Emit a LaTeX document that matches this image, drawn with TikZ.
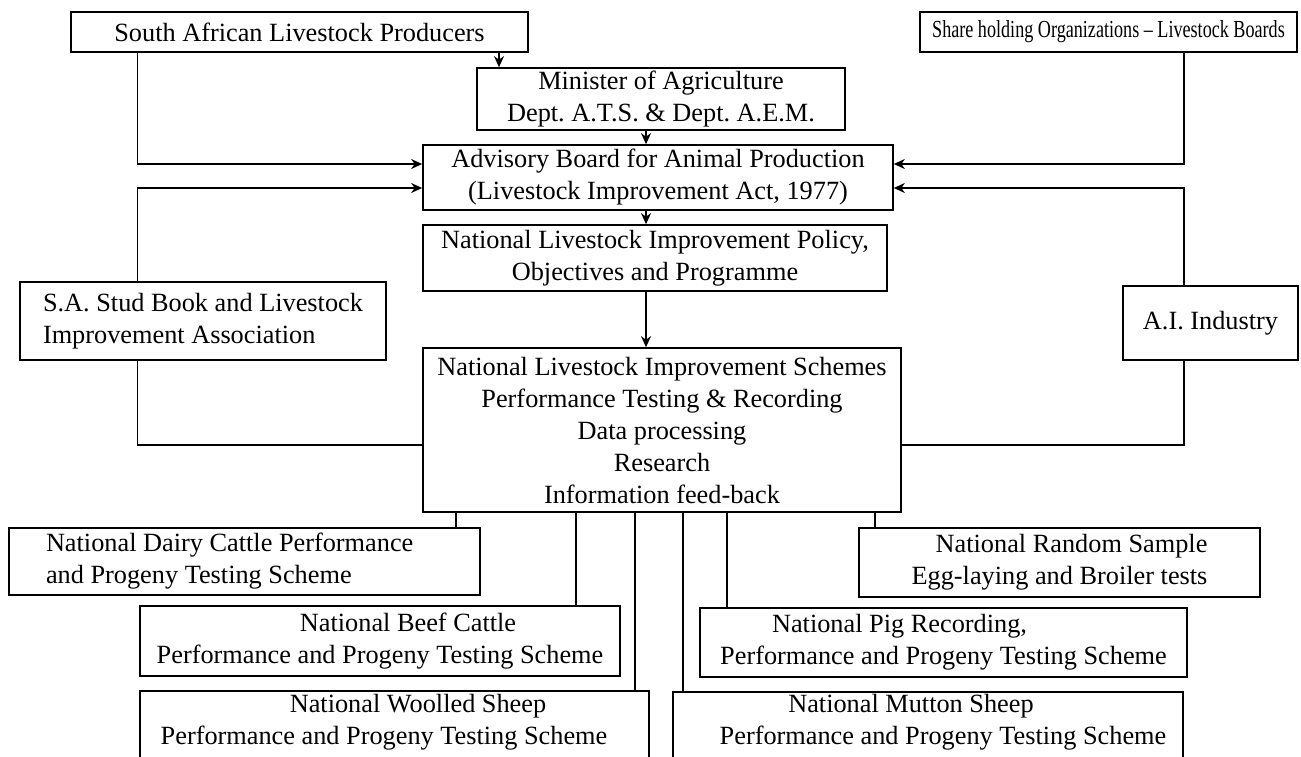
\documentclass[tikz,border=0pt]{standalone}
\usepackage{fontspec}
\setmainfont{Liberation Serif}
\newfontfamily\narrowserif[FakeStretch=0.74]{Liberation Serif}
\usetikzlibrary{arrows.meta}
\frenchspacing

\begin{document}
\begin{tikzpicture}[x=1pt,y=-1pt,
  box/.style={draw, line width=1.7pt, inner sep=0pt, align=center,
    font=\fontsize{26.3}{32}\selectfont},
  txt/.style={inner sep=0pt, align=center, font=\fontsize{26.3}{32}\selectfont},
  link/.style={line width=1.4pt},
  arr/.style={link, -{Stealth[length=11pt,width=10pt,inset=3.5pt]}}]

\useasboundingbox (0,0) rectangle (1301,756);
\clip (0,0) rectangle (1301,756);

% top row
\node[box, minimum width=457, minimum height=40] (salp) at (299.5,32)
  {South African Livestock Producers};
\node[box, minimum width=377, minimum height=40] (share) at (1108.5,32)
  {\fontsize{24.5}{30}\narrowserif Share holding Organizations – Livestock Boards};

% central column
\node[box, minimum width=368, minimum height=62] (minister) at (661,99)
  {Minister of Agriculture\\Dept. A.T.S. \& Dept. A.E.M.};
\node[box, minimum width=470, minimum height=65] (advisory) at (658,177.5)
  {Advisory Board for Animal Production\\(Livestock Improvement Act, 1977)};
\node[box, minimum width=464, minimum height=66] (nlip) at (655,258)
  {National Livestock Improvement Policy,\\Objectives and Programme};
\node[box, minimum width=478, minimum height=164] (nlis) at (662,430)
  {National Livestock Improvement Schemes\\Performance Testing \& Recording\\Data processing\\Research\\Information feed-back};

% side organisations
\node[box, minimum width=366, minimum height=78, align=flush left] (stud) at (203,321)
  {S.A. Stud Book and Livestock\\Improvement Association};
\node[box, minimum width=175, minimum height=74] (ai) at (1210.5,323)
  {A.I. Industry};

% schemes
\node[box, minimum width=471, minimum height=67, text width=397, align=flush left] (dairy) at (244.5,561.5)
  {National Dairy Cattle Performance\\and Progeny Testing Scheme};
\node[box, minimum width=401, minimum height=69, align=flush right] (random) at (1059.5,562.5)
  {National Random Sample\\Egg-laying and Broiler tests};
\node[box, minimum width=480, minimum height=70] (beef) at (380,641)
  {\hspace*{56pt}National Beef Cattle\\Performance and Progeny Testing Scheme};
\node[box, minimum width=487, minimum height=69] (pig) at (943.5,642.5)
  {National Pig Recording,\hspace*{88pt}\\Performance and Progeny Testing Scheme};
\node[box, minimum width=509, minimum height=120, anchor=north] (woolled) at (394.5,690) {};
\node[txt] (woolledtext) at (384,722)
  {\hspace*{68pt}National Woolled Sheep\\Performance and Progeny Testing Scheme};
\node[box, minimum width=510, minimum height=120, anchor=north] (mutton) at (928,691) {};
\node[txt] (muttontext) at (943,722)
  {National Mutton Sheep\hspace*{64pt}\\Performance and Progeny Testing Scheme};

% routing columns and rows
\coordinate (lcol) at (137.5,164);
\coordinate (rcol) at (1184,164);
\coordinate (lrow2) at (137.5,188);
\coordinate (rrow2) at (1184,188);
\coordinate (lrow3) at (137.5,445);
\coordinate (rrow3) at (1184,445);
\coordinate (salpdrop) at (499,0);
\coordinate (spine) at (646,0);

% feeds into the advisory board
\draw[arr] (salp.south -| lcol) |- (advisory.west |- lcol);
\draw[arr] (share.south -| rcol) |- (advisory.east |- rcol);
\draw[arr] (stud.north -| lrow2) |- (advisory.west |- lrow2);
\draw[arr] (ai.north -| rrow2) |- (advisory.east |- rrow2);
\draw[arr] (salp.south -| salpdrop) -- (minister.north -| salpdrop);

% main spine
\draw[arr] (minister.south -| spine) -- (advisory.north -| spine);
\draw[arr] (advisory.south -| spine) -- (nlip.north -| spine);
\draw[arr] (nlip.south -| spine) -- (nlis.north -| spine);

% links from the schemes to the side organisations
\draw[link] (stud.south -| lrow3) |- (nlis.west |- lrow3);
\draw[link] (ai.south -| rrow3) |- (nlis.east |- rrow3);

% branches to the individual schemes
\coordinate (bdairy) at (456,0);
\coordinate (bbeef) at (576,0);
\coordinate (bwool) at (635,0);
\coordinate (bmutton) at (683,0);
\coordinate (bpig) at (727,0);
\coordinate (brandom) at (875,0);
\draw[link] (nlis.south -| bdairy) -- (dairy.north -| bdairy);
\draw[link] (nlis.south -| bbeef) -- (beef.north -| bbeef);
\draw[link] (nlis.south -| bwool) -- (woolled.north -| bwool);
\draw[link] (nlis.south -| bmutton) -- (mutton.north -| bmutton);
\draw[link] (nlis.south -| bpig) -- (pig.north -| bpig);
\draw[link] (nlis.south -| brandom) -- (random.north -| brandom);
\end{tikzpicture}
\end{document}
